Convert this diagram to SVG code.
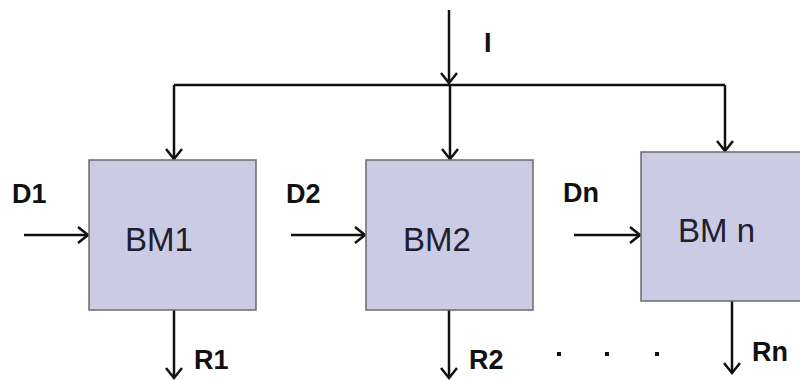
<svg xmlns="http://www.w3.org/2000/svg" width="800" height="380" viewBox="0 0 800 380">
<style>
.box{fill:#cbcbe5;stroke:#6a6a72;stroke-width:1.5}
.name{font-family:"Liberation Sans",Arial,sans-serif;font-size:33px;fill:#20202c}
.lbl{font-family:"Liberation Sans",Arial,sans-serif;font-size:27px;font-weight:bold;fill:#111}
.wire{fill:none;stroke:#111;stroke-width:2.5}
</style>
<defs>
<marker id="ah" viewBox="-12 -10 14 20" refX="0" refY="0" markerWidth="14" markerHeight="20" markerUnits="userSpaceOnUse" orient="auto">
<path d="M-10,-8 L0,0 L-10,8" fill="none" stroke="#111" stroke-width="2.5"/>
</marker>
</defs>
<rect width="800" height="380" fill="#fff"/>
<g id="connectors">
<line class="wire" x1="449" y1="10" x2="449" y2="83" marker-end="url(#ah)"/>
<path class="wire" d="M174,85 H725"/>
<line class="wire" x1="174" y1="85" x2="174" y2="159" marker-end="url(#ah)"/>
<line class="wire" x1="450" y1="85" x2="450" y2="159" marker-end="url(#ah)"/>
<line class="wire" x1="725" y1="85" x2="725" y2="151" marker-end="url(#ah)"/>
<line class="wire" x1="24" y1="235" x2="88" y2="235" marker-end="url(#ah)"/>
<line class="wire" x1="291" y1="235" x2="365" y2="235" marker-end="url(#ah)"/>
<line class="wire" x1="574" y1="235" x2="640" y2="235" marker-end="url(#ah)"/>
<line class="wire" x1="174" y1="310" x2="174" y2="378" marker-end="url(#ah)"/>
<line class="wire" x1="449" y1="310" x2="449" y2="378" marker-end="url(#ah)"/>
<line class="wire" x1="732" y1="301" x2="732" y2="373" marker-end="url(#ah)"/>
</g>
<g id="bm1">
<rect class="box" x="89" y="160" width="167" height="150"/>
<text class="name" x="125" y="251">BM1</text>
</g>
<g id="bm2">
<rect class="box" x="366" y="160" width="167" height="150"/>
<text class="name" x="403" y="251">BM2</text>
</g>
<g id="bmn">
<rect class="box" x="641" y="152" width="167" height="149"/>
<text class="name" x="678" y="242">BM n</text>
</g>
<g id="labels">
<text class="lbl" x="484" y="52">I</text>
<text class="lbl" x="12" y="203">D1</text>
<text class="lbl" x="286" y="203">D2</text>
<text class="lbl" x="563" y="202">Dn</text>
<text class="lbl" x="194" y="369">R1</text>
<text class="lbl" x="469" y="369">R2</text>
<text class="lbl" x="752" y="361">Rn</text>
</g>
<g id="dots" fill="#111">
<rect x="557" y="352" width="4" height="4"/>
<rect x="605" y="352" width="4" height="4"/>
<rect x="655" y="352" width="4" height="4"/>
</g>
</svg>
